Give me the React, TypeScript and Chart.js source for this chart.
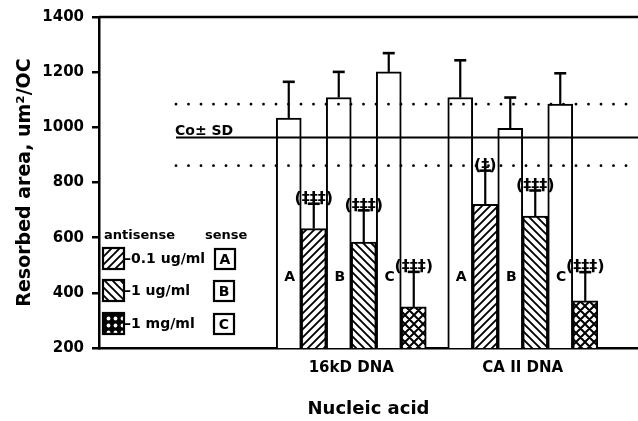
import React, { useEffect, useRef } from 'react';
import { Chart, registerables } from 'chart.js';

Chart.register(...registerables);

// ---------- data ----------
const groups = ['16kD DNA', 'CA II DNA'];
const senseLabels = ['A', 'B', 'C'];
const concentrations = ['0.1 ug/ml', '1 ug/ml', '1 mg/ml'];

const senseMeans16kD = [1034, 1108, 1201];
const senseSD16kD = [131, 93, 68];
const antisenseMeans16kD = [633, 584, 349];
const antisenseSD16kD = [90, 115, 127];

const senseMeansCAII = [1108, 996, 1084];
const senseSDCAII = [135, 112, 112];
const antisenseMeansCAII = [721, 678, 371];
const antisenseSDCAII = [122, 93, 104];

const significance16kD = ['(‡‡‡)', '(‡‡‡)', '(‡‡‡)'];
const significanceCAII = ['(‡)', '(‡‡‡)', '(‡‡‡)'];

const controlMean = 966;
const controlUpper = 1084;
const controlLower = 861;

const yMin = 200;
const yMax = 1400;
const yStep = 200;

// ---------- layout ----------
const W = 638;
const H = 421;
const groupCenters = [10.09, 16.95]; // x-scale units (one unit = one bar slot)
const xMax = 21.56;
const BAR_PX = 25;
const FONT = 'DejaVu Sans';

export default function App() {
  const ref = useRef<HTMLCanvasElement>(null);

  useEffect(() => {
    const canvas = ref.current!;
    const mainCtx = canvas.getContext('2d')!;

    const makePattern = (
      s: number,
      draw: (c: CanvasRenderingContext2D, s: number) => void,
      bg = '#fff'
    ) => {
      const pc = document.createElement('canvas');
      pc.width = s;
      pc.height = s;
      const c = pc.getContext('2d')!;
      c.fillStyle = bg;
      c.fillRect(0, 0, s, s);
      draw(c, s);
      return mainCtx.createPattern(pc, 'repeat')!;
    };
    const up = (c: CanvasRenderingContext2D, s: number) => {
      c.moveTo(-1, 1); c.lineTo(1, -1);
      c.moveTo(0, s); c.lineTo(s, 0);
      c.moveTo(s - 1, s + 1); c.lineTo(s + 1, s - 1);
    };
    const down = (c: CanvasRenderingContext2D, s: number) => {
      c.moveTo(-1, s - 1); c.lineTo(1, s + 1);
      c.moveTo(0, 0); c.lineTo(s, s);
      c.moveTo(s - 1, -1); c.lineTo(s + 1, 1);
    };
    const pUp = makePattern(8, (c, s) => {
      c.strokeStyle = '#000'; c.lineWidth = 1.9; c.beginPath(); up(c, s); c.stroke();
    });
    const pDown = makePattern(8, (c, s) => {
      c.strokeStyle = '#000'; c.lineWidth = 1.9; c.beginPath(); down(c, s); c.stroke();
    });
    const pCross = makePattern(9, (c, s) => {
      c.strokeStyle = '#000'; c.lineWidth = 2; c.beginPath(); up(c, s); down(c, s); c.stroke();
    });
    const pDots = makePattern(7, (c, s) => {
      c.fillStyle = '#fff'; c.beginPath(); c.arc(s / 2, s / 2, 1.9, 0, Math.PI * 2); c.fill();
    }, '#000');
    const antiPatterns = [pUp, pDown, pCross];
    const legendPatterns = [pUp, pDown, pDots];

    const senseMeans = [senseMeans16kD, senseMeansCAII];
    const senseSD = [senseSD16kD, senseSDCAII];
    const antiMeans = [antisenseMeans16kD, antisenseMeansCAII];
    const antiSD = [antisenseSD16kD, antisenseSDCAII];
    const significance = [significance16kD, significanceCAII];

    const senseData = groups.flatMap((_, gi) =>
      senseMeans[gi].map((v, i) => ({ x: groupCenters[gi] + 2 * i - 2.5, y: v }))
    );
    const antiData = groups.flatMap((_, gi) =>
      antiMeans[gi].map((v, i) => ({ x: groupCenters[gi] + 2 * i - 1.5, y: v }))
    );
    const senseErr = senseSD.flat();
    const antiErr = antiSD.flat();
    const sigFlat = significance.flat();
    const senseLabelFlat = groups.flatMap(() => senseLabels);

    const font = (size: number) => `bold ${size}px "${FONT}"`;

    const overlay = {
      id: 'overlay',
      afterDatasetsDraw(chart: any) {
        const ctx: CanvasRenderingContext2D = chart.ctx;
        const y = chart.scales.y;
        const area = chart.chartArea;
        ctx.save();
        ctx.strokeStyle = '#000';
        ctx.fillStyle = '#000';

        // top frame line
        ctx.lineWidth = 2.5;
        ctx.beginPath();
        ctx.moveTo(area.left, area.top);
        ctx.lineTo(area.right, area.top);
        ctx.stroke();

        // control lines
        const lineStart = 176;
        ctx.lineWidth = 2;
        ctx.beginPath();
        const ym = Math.round(y.getPixelForValue(controlMean)) + 0.5;
        ctx.moveTo(lineStart, ym);
        ctx.lineTo(area.right, ym);
        ctx.stroke();
        ctx.lineWidth = 2.8;
        ctx.lineCap = 'round';
        ctx.setLineDash([0, 12.5]);
        [controlUpper, controlLower].forEach((v) => {
          const yy = y.getPixelForValue(v);
          ctx.beginPath();
          ctx.moveTo(lineStart, yy);
          ctx.lineTo(area.right, yy);
          ctx.stroke();
        });
        ctx.setLineDash([]);
        ctx.lineCap = 'butt';
        ctx.font = font(14);
        ctx.textAlign = 'left';
        ctx.textBaseline = 'alphabetic';
        ctx.fillText('Co± SD', 175, ym - 3);

        // error bars
        const errs = [senseErr, antiErr];
        chart.data.datasets.forEach((ds: any, di: number) => {
          const meta = chart.getDatasetMeta(di);
          meta.data.forEach((bar: any, i: number) => {
            const top = y.getPixelForValue(ds.data[i].y + errs[di][i]);
            ctx.lineWidth = 2.2;
            ctx.beginPath();
            ctx.moveTo(bar.x, bar.y);
            ctx.lineTo(bar.x, top);
            ctx.stroke();
            ctx.lineWidth = 2.6;
            ctx.beginPath();
            ctx.moveTo(bar.x - 6, top);
            ctx.lineTo(bar.x + 6, top);
            ctx.stroke();
          });
        });

        // sense letters inside white bars
        ctx.font = font(14);
        ctx.textAlign = 'center';
        ctx.textBaseline = 'middle';
        chart.getDatasetMeta(0).data.forEach((bar: any, i: number) => {
          ctx.fillText(senseLabelFlat[i], bar.x + 1, y.getPixelForValue(455));
        });

        // significance marks
        ctx.font = font(16);
        ctx.textBaseline = 'bottom';
        chart.getDatasetMeta(1).data.forEach((bar: any, i: number) => {
          const top = y.getPixelForValue(antiData[i].y + antiErr[i]);
          ctx.fillText(sigFlat[i], bar.x, top + 3);
        });
        ctx.restore();
      },
      afterDraw(chart: any) {
        const ctx: CanvasRenderingContext2D = chart.ctx;
        ctx.save();
        ctx.fillStyle = '#000';
        ctx.strokeStyle = '#000';
        ctx.textBaseline = 'middle';
        ctx.textAlign = 'left';
        ctx.font = font(13);
        ctx.fillText('antisense', 104, 236);
        ctx.fillText('sense', 205, 236);
        const rows = [248, 280, 313];
        const boxX = [215, 214, 214];
        rows.forEach((ry, i) => {
          ctx.fillStyle = legendPatterns[i];
          ctx.fillRect(103, ry, 21, 21);
          ctx.lineWidth = 2.2;
          ctx.strokeRect(103, ry, 21, 21);
          ctx.fillStyle = '#000';
          ctx.font = font(14);
          ctx.textAlign = 'left';
          ctx.fillText('–' + concentrations[i], 124, ry + 11);
          ctx.fillStyle = '#fff';
          ctx.fillRect(boxX[i], ry + 1, 20, 20);
          ctx.strokeRect(boxX[i], ry + 1, 20, 20);
          ctx.fillStyle = '#000';
          ctx.textAlign = 'center';
          ctx.fillText(senseLabels[i], boxX[i] + 10, ry + 12);
        });
        ctx.restore();
      },
    };

    const chart = new Chart(canvas, {
      type: 'bar',
      data: {
        datasets: [
          {
            label: 'sense',
            data: senseData,
            backgroundColor: '#fff',
            borderColor: '#000',
            borderWidth: 2,
            borderSkipped: false,
            grouped: false,
            barThickness: BAR_PX,
          } as any,
          {
            label: 'antisense',
            data: antiData,
            backgroundColor: antiPatterns as any,
            borderColor: '#000',
            borderWidth: 2,
            borderSkipped: false,
            grouped: false,
            barThickness: BAR_PX,
          } as any,
        ],
      },
      options: {
        animation: false,
        responsive: false,
        devicePixelRatio: 1,
        layout: { padding: { top: 16, left: 0, right: 0, bottom: 0 } },
        plugins: { legend: { display: false }, tooltip: { enabled: false } },
        scales: {
          x: {
            type: 'linear',
            min: 0,
            max: xMax,
            offset: false,
            afterBuildTicks: (s: any) => {
              s.ticks = groupCenters.map((v) => ({ value: v }));
            },
            afterFit: (s: any) => {
              s.height = H - 348;
            },
            ticks: {
              callback: (_v: any, i: number) => groups[i],
              autoSkip: false,
              maxRotation: 0,
              color: '#000',
              padding: 11,
              font: { family: FONT, weight: 'bold', size: 15 },
            },
            grid: { display: true, offset: false, drawOnChartArea: false, drawTicks: false },
            border: { display: true, color: '#000', width: 2.5 },
            title: {
              display: true,
              text: 'Nucleic acid',
              color: '#000',
              font: { family: FONT, weight: 'bold', size: 18 },
              padding: { top: 0, bottom: 1 },
            },
          } as any,
          y: {
            min: yMin,
            max: yMax,
            afterFit: (s: any) => {
              s.width = 99;
            },
            ticks: {
              stepSize: yStep,
              callback: (v: any) => String(v),
              color: '#000',
              padding: 8,
              font: { family: FONT, weight: 'bold', size: 15 },
            },
            grid: {
              display: true,
              drawOnChartArea: false,
              drawTicks: true,
              tickLength: 7,
              color: '#000',
              lineWidth: 2.5,
            },
            border: { display: true, color: '#000', width: 2.5 },
            title: {
              display: true,
              text: 'Resorbed area, um²/OC',
              color: '#000',
              font: { family: FONT, weight: 'bold', size: 19 },
              padding: { top: 13.6, bottom: 0 },
            },
          } as any,
        },
      },
      plugins: [overlay],
    });
    return () => chart.destroy();
  }, []);

  return (
    <div style={{ position: 'absolute', left: 0, top: 0, width: W, height: H, background: '#fff' }}>
      <canvas ref={ref} width={W} height={H} style={{ display: 'block' }} />
    </div>
  );
}
